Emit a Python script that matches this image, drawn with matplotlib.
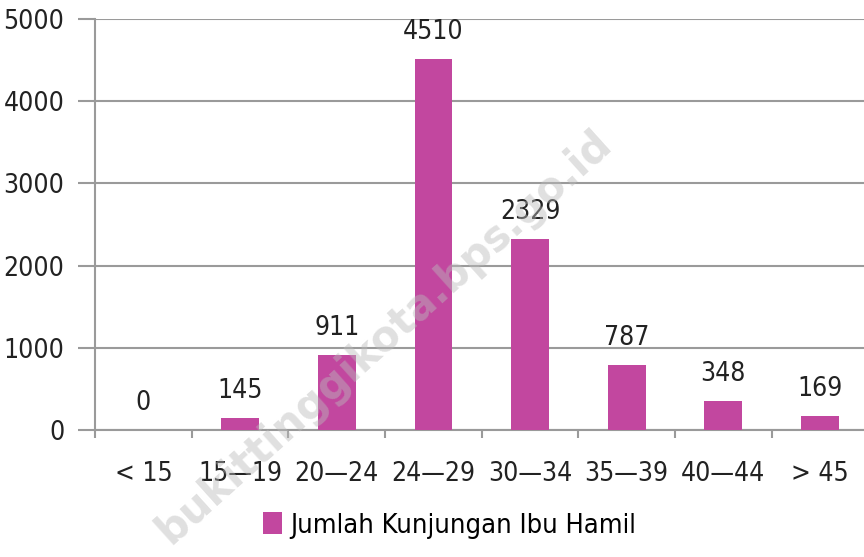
import matplotlib
matplotlib.use("Agg")
from matplotlib import pyplot as plt

# data
categories = ["< 15", "15\u201419", "20\u201424", "24\u201429", "30\u201434", "35\u201439", "40\u201444", "> 45"]
values = [0, 145, 911, 4510, 2329, 787, 348, 169]
series_name = "Jumlah Kunjungan Ibu Hamil"
yticks = [0, 1000, 2000, 3000, 4000, 5000]

plt.rcParams['font.family'] = ['DejaVu Sans']
plt.rcParams['font.stretch'] = 'condensed'

bar_color = '#C2479F'
grid_color = '#9A9A9A'
text_color = '#222222'

fig = plt.figure(figsize=(8.64, 5.57), dpi=100)
ax = fig.add_axes([0.110, 0.228, 0.895, 0.738])

x = [i + 0.5 for i in range(len(categories))]
bars = ax.bar(x, values, width=0.39, color=bar_color, zorder=3, label=series_name)

for xi, v in zip(x, values):
    ax.text(xi, v + 170, str(v), ha='center', va='bottom', fontsize=19, color=text_color, zorder=4)

ax.set_xlim(0, len(categories))
ax.set_ylim(0, 5000)
ax.set_yticks(yticks)
ax.set_yticklabels([str(t) for t in yticks], fontsize=19, color=text_color)
ax.yaxis.grid(True, color=grid_color, linewidth=1.5, zorder=0)
ax.tick_params(axis='y', length=12, width=1.5, color=grid_color, pad=10)

ax.set_xticks(range(len(categories) + 1))
ax.set_xticklabels([])
ax.set_xticks(x, minor=True)
ax.set_xticklabels(categories, minor=True, fontsize=19, color=text_color)
ax.tick_params(axis='x', which='major', length=6, width=1.5, color=grid_color)
ax.tick_params(axis='x', which='minor', length=0, pad=22)

for s in ['top', 'right']:
    ax.spines[s].set_visible(False)
for s in ['left', 'bottom']:
    ax.spines[s].set_color(grid_color)
    ax.spines[s].set_linewidth(1.5)

# watermark
fig.text(0.445, 0.395, "bukittinggikota.bps.go.id", rotation=42, fontsize=30,
         fontweight='bold', color='#BBBBBB', alpha=0.45, ha='center', va='center',
         family='DejaVu Sans', fontstretch='normal', zorder=10)

fig.legend(handles=[bars], labels=[series_name], loc='center', bbox_to_anchor=(0.52, 0.057),
           frameon=False, fontsize=19.5, handlelength=0.7, handleheight=0.9, handletextpad=0.3)

fig.savefig("out.png", dpi=100)
